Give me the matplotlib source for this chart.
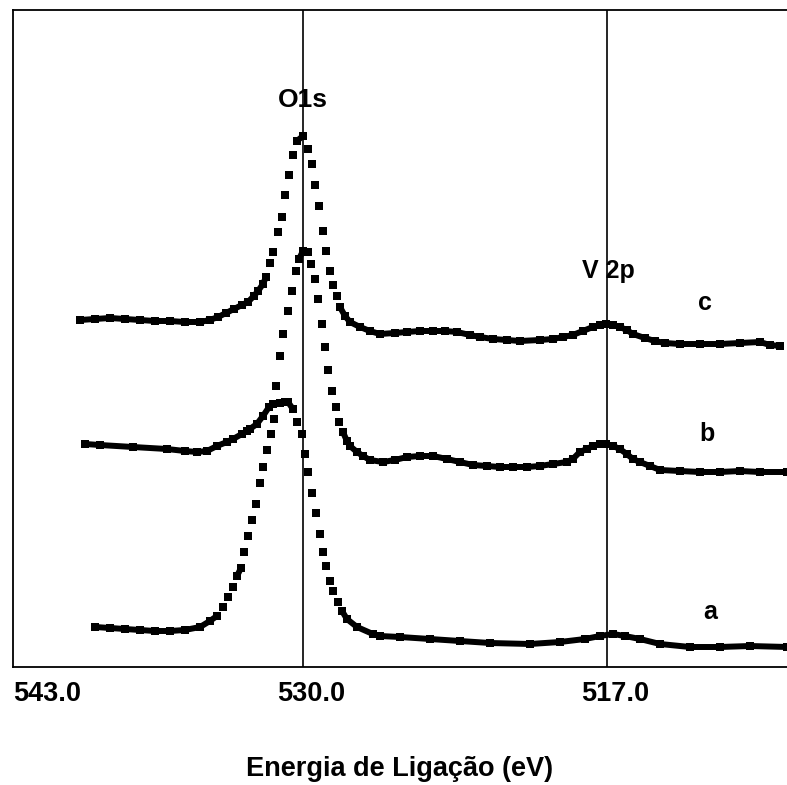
import matplotlib
matplotlib.use("Agg")
import matplotlib.pyplot as plt
import matplotlib.transforms as mtransforms

plt.rcParams['font.family'] = ['Liberation Sans', 'DejaVu Sans']
plt.rcParams['font.weight'] = 'bold'

C_EV = [539.54, 538.89, 538.25, 537.61, 536.97, 536.33, 535.69, 535.05, 534.40, 533.98,
        533.63, 533.29, 532.95, 532.61, 532.35, 532.10, 531.92, 531.71, 531.58, 531.41,
        531.28, 531.07, 530.90, 530.77, 530.60, 530.43, 530.26, 530.00, 529.79, 529.62,
        529.49, 529.32, 529.15, 529.02, 528.85, 528.72, 528.55, 528.42, 528.20, 527.99,
        527.56, 527.14, 526.71, 526.07, 525.55, 525.00, 524.44, 523.93, 523.41, 522.86,
        522.43, 521.88, 521.28, 520.72, 519.87, 519.31, 518.88, 518.46, 518.03, 517.60,
        517.30, 517.04, 516.74, 516.45, 516.15, 515.89, 515.38, 514.95, 514.52, 513.88,
        513.02, 512.17, 511.31, 510.46, 510.03, 509.60]
C_INT = [34.7, 34.8, 34.9, 34.8, 34.7, 34.6, 34.6, 34.5, 34.5, 34.7,
         35.0, 35.4, 35.8, 36.2, 36.5, 37.1, 37.6, 38.3, 39.0, 40.4,
         41.5, 43.5, 45.0, 47.2, 49.2, 51.2, 52.6, 53.1, 51.8, 50.3,
         48.2, 46.1, 43.6, 41.6, 39.6, 38.2, 37.1, 36.0, 35.1, 34.5,
         34.0, 33.6, 33.3, 33.4, 33.5, 33.6, 33.6, 33.6, 33.5, 33.2,
         33.0, 32.8, 32.7, 32.6, 32.7, 32.8, 33.0, 33.2, 33.6, 34.0,
         34.2, 34.3, 34.2, 34.0, 33.7, 33.3, 32.9, 32.6, 32.4, 32.3,
         32.3, 32.3, 32.4, 32.5, 32.2, 32.1]

B_EV = [538.89, 538.25, 537.61, 536.97, 536.33, 535.69, 535.05, 534.40, 533.98, 533.68,
        533.42, 533.21, 532.99, 532.82, 532.65, 532.52, 532.35, 532.18, 532.01, 531.84,
        531.71, 531.54, 531.37, 531.24, 531.15, 530.98, 530.86, 530.64, 530.47, 530.30,
        530.17, 530.00, 529.79, 529.66, 529.49, 529.36, 529.19, 529.06, 528.93, 528.76,
        528.59, 528.46, 528.29, 528.12, 527.99, 527.69, 527.43, 527.14, 526.58, 526.07,
        525.55, 525.00, 524.44, 523.84, 523.29, 522.73, 522.13, 521.58, 521.02, 520.42,
        519.87, 519.31, 518.71, 518.46, 518.16, 517.86, 517.60, 517.30, 517.04, 516.74,
        516.45, 516.15, 515.89, 515.59, 515.16, 514.73, 513.88, 513.02, 512.17, 511.31,
        510.46, 509.30]
B_INT = [4.0, 3.9, 3.8, 3.7, 3.6, 3.6, 3.7, 4.0, 4.6, 5.1,
         6.0, 7.0, 8.0, 9.1, 9.9, 11.5, 13.1, 14.7, 16.3, 18.4,
         20.0, 21.7, 23.3, 24.8, 28.1, 31.1, 33.3, 35.6, 37.6, 39.6,
         40.8, 41.6, 41.5, 40.3, 38.8, 36.8, 34.3, 32.0, 29.7, 27.6,
         26.0, 24.5, 23.5, 22.6, 22.1, 21.5, 21.1, 20.7, 20.5, 20.7,
         21.0, 21.1, 21.1, 20.8, 20.5, 20.2, 20.1, 20.0, 20.0, 20.0,
         20.1, 20.3, 20.5, 20.8, 21.5, 21.8, 22.1, 22.3, 22.3, 22.1,
         21.8, 21.3, 20.8, 20.5, 20.1, 19.7, 19.6, 19.5, 19.5, 19.6,
         19.5, 19.5]

A_EV = [539.32, 538.68, 537.27, 535.82, 535.05, 534.53, 534.10, 533.68, 533.25, 532.99,
        532.61, 532.39, 532.27, 531.97, 531.71, 531.45, 531.28, 530.98, 530.77, 530.64,
        530.43, 530.26, 530.04, 529.91, 529.79, 529.62, 529.44, 529.27, 529.15, 529.02,
        528.85, 528.72, 528.50, 528.33, 528.12, 527.69, 527.01, 526.71, 525.85, 524.57,
        523.29, 522.00, 520.29, 519.01, 517.94, 517.30, 516.74, 516.23, 515.59, 514.73,
        513.45, 512.17, 510.89, 509.30]
A_INT = [22.3, 22.2, 22.0, 21.8, 21.6, 21.5, 21.6, 22.1, 22.5, 22.8,
         23.3, 23.6, 23.8, 24.3, 25.1, 26.0, 26.3, 26.4, 26.5, 26.5,
         25.8, 24.5, 23.3, 21.3, 19.5, 17.4, 15.4, 13.3, 11.5, 10.1,
         8.6, 7.6, 6.5, 5.6, 4.8, 4.0, 3.3, 3.1, 3.0, 2.8,
         2.6, 2.4, 2.3, 2.5, 2.8, 3.1, 3.3, 3.1, 2.8, 2.3,
         2.0, 2.0, 2.1, 2.0]

PEAK_LINES = [530.0, 517.0]
XTICKS = [530.0, 517.0]
XTICK_LABELS = ["530.0", "517.0"]
LEFT_LABEL = "543.0"
X_RANGE = (542.40, 509.30)

# rotulos: texto, energia, intensidade, tamanho
LABELS = [("O1s", 530.0, 56.7, 19),
          ("V 2p", 516.96, 39.6, 18),
          ("c", 512.81, 36.4, 18),
          ("b", 512.72, 23.3, 18),
          ("a", 512.60, 5.5, 18)]


def draw_trace(ax, x, y):
    # pontos soltos nas subidas, traco grosso onde os pontos se encostam
    ax.plot(x, y, ls='none', marker='s', ms=5.2, mew=0, color='black')
    for i in range(len(x) - 1):
        if abs(y[i + 1] - y[i]) <= 0.9:
            ax.plot(x[i:i + 2], y[i:i + 2], color='black', lw=4.3,
                    solid_capstyle='round')


fig = plt.figure(figsize=(7.87, 7.85), dpi=100)
ax = fig.add_axes([13 / 787, 1 - 667 / 785, 1 - 13 / 787, 657 / 785])

for x, y in [(C_EV, C_INT), (B_EV, B_INT), (A_EV, A_INT)]:
    draw_trace(ax, x, y)

for e in PEAK_LINES:
    ax.axvline(e, color='black', lw=1.2)

for txt, e, i, size in LABELS:
    ax.text(e, i, txt, ha='center', va='center', fontsize=size, fontweight='bold')

ax.set_xlim(*X_RANGE)
ax.set_ylim(0, 65.7)
ax.set_yticks([])
ax.set_xticks(XTICKS)
ax.set_xticklabels(XTICK_LABELS, fontsize=19.5, fontweight='bold')
ax.tick_params(axis='x', length=0, pad=10)
shift = mtransforms.ScaledTranslation(8 / 100, 0, fig.dpi_scale_trans)
for lab in ax.get_xticklabels():
    lab.set_transform(lab.get_transform() + shift)
ax.text(0.0, -0.022, LEFT_LABEL, transform=ax.transAxes, ha='left', va='top',
        fontsize=19.5, fontweight='bold')
ax.set_xlabel("Energia de Ligação (eV)", fontsize=19.5, fontweight='bold', labelpad=35)

ax.spines['right'].set_visible(False)
for s in ['left', 'top', 'bottom']:
    ax.spines[s].set_linewidth(1.3)

fig.savefig("out.png", dpi=100)
